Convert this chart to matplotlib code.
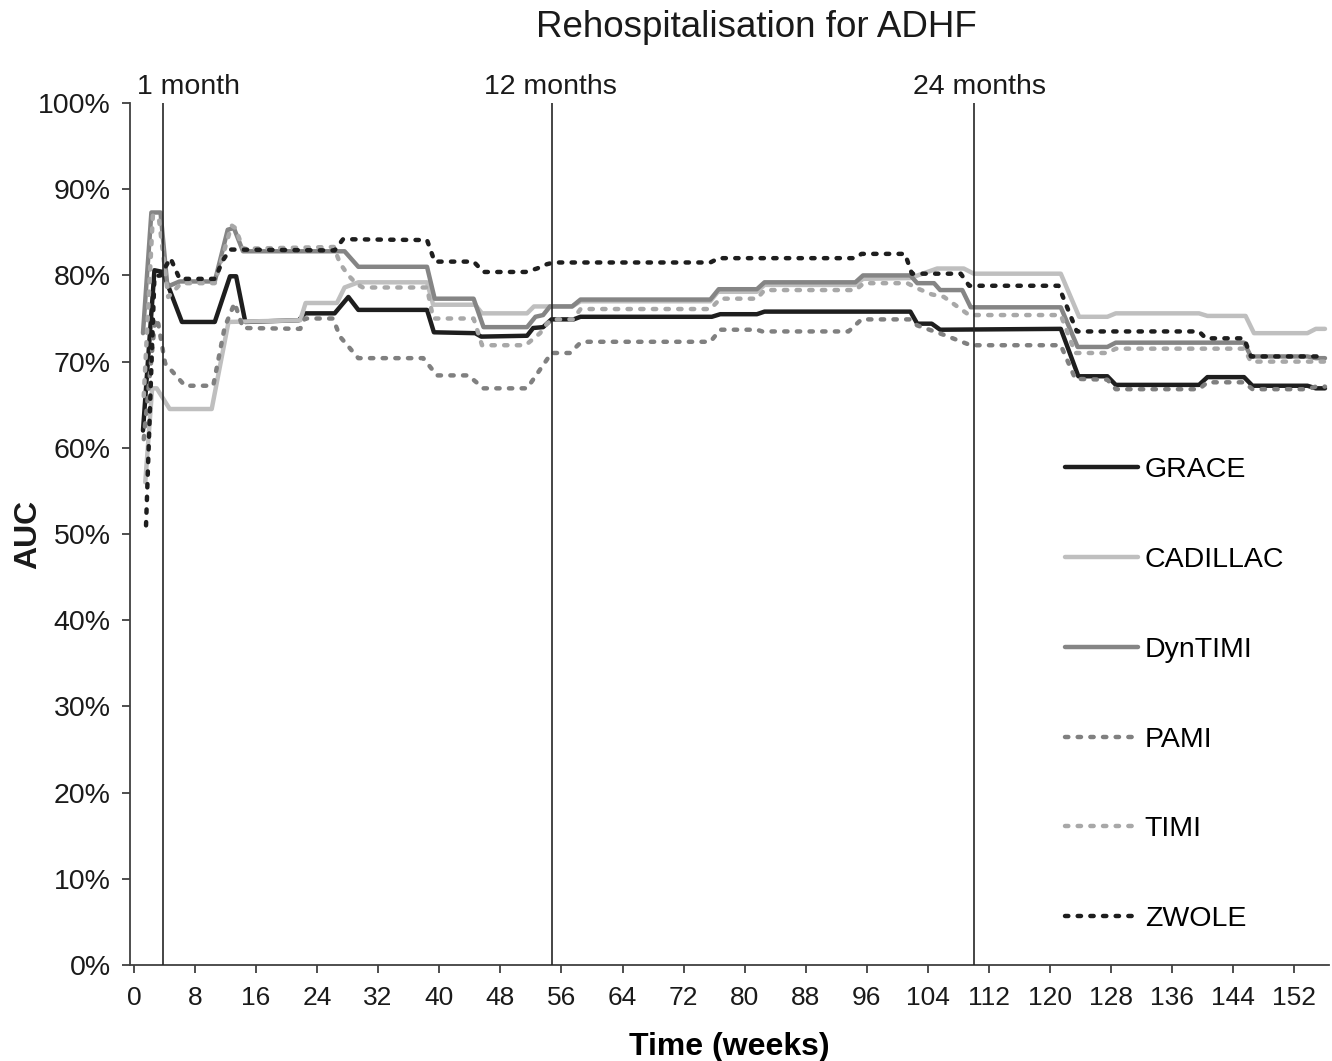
import matplotlib
matplotlib.use('Agg')
import matplotlib.pyplot as plt
from matplotlib.ticker import PercentFormatter

plt.rcParams['font.family'] = ['Liberation Sans', 'DejaVu Sans']

# weeks / AUC (%)
grace_wk = [1.2, 2.7, 3.8, 6.3, 10.6, 12.6, 13.4, 14.6, 21.6, 22.4, 26.3, 28.1, 29.4, 38.4, 39.3,
            44.7, 45.5, 51.5, 52.3, 53.6, 54.7, 57.6, 58.5, 75.7, 76.8, 81.6, 82.6, 101.7, 102.6,
            104.5, 105.6, 121.4, 123.7, 127.5, 128.6, 139.5, 140.6, 145.4, 146.5, 153.7, 154.8, 156]
grace_auc = [62.0, 80.6, 80.4, 74.6, 74.6, 79.9, 79.9, 74.6, 74.8, 75.6, 75.6, 77.5, 76.0, 76.0, 73.4,
             73.3, 72.9, 73.0, 73.9, 74.0, 74.9, 74.9, 75.2, 75.2, 75.5, 75.5, 75.8, 75.8, 74.4,
             74.4, 73.7, 73.8, 68.3, 68.3, 67.3, 67.3, 68.2, 68.2, 67.2, 67.2, 66.9, 66.9]

cadillac_wk = [1.5, 2.4, 3.0, 4.7, 10.2, 12.4, 21.8, 22.5, 26.6, 27.6, 29.4, 38.4, 39.2, 44.7, 45.6,
               51.5, 52.4, 57.4, 58.5, 75.5, 76.5, 81.6, 82.6, 94.5, 95.5, 101.7, 105.2, 108.7, 110.0,
               121.4, 123.8, 127.5, 128.6, 139.5, 140.6, 145.6, 146.7, 153.7, 154.8, 156]
cadillac_auc = [56.0, 66.9, 66.9, 64.5, 64.5, 74.6, 74.8, 76.8, 76.8, 78.6, 79.2, 79.2, 76.6, 76.6, 75.6,
                75.6, 76.4, 76.4, 77.0, 77.0, 78.1, 78.1, 78.9, 78.9, 79.6, 79.7, 80.8, 80.8, 80.2,
                80.2, 75.2, 75.2, 75.6, 75.6, 75.3, 75.3, 73.3, 73.3, 73.8, 73.8]

dyntimi_wk = [1.2, 2.3, 3.5, 4.4, 6.0, 10.6, 12.3, 13.1, 14.3, 27.6, 29.4, 38.4, 39.4, 44.5, 45.8,
              51.5, 52.6, 53.6, 54.5, 57.4, 58.5, 75.5, 76.6, 81.6, 82.6, 94.5, 95.5, 101.7, 102.6,
              104.8, 105.6, 108.5, 109.6, 121.4, 123.6, 127.5, 128.6, 145.4, 146.3, 153.7, 154.8, 156]
dyntimi_auc = [73.3, 87.3, 87.3, 78.7, 79.3, 79.3, 85.3, 85.5, 82.8, 82.8, 81.0, 81.0, 77.3, 77.3, 74.0,
               74.0, 75.2, 75.4, 76.4, 76.4, 77.2, 77.2, 78.4, 78.4, 79.2, 79.2, 80.0, 80.0, 79.1,
               79.1, 78.3, 78.3, 76.3, 76.3, 71.7, 71.7, 72.2, 72.2, 70.6, 70.6, 70.4, 70.4]

pami_wk = [1.3, 2.8, 3.2, 4.1, 6.7, 10.4, 11.9, 13.2, 14.3, 21.8, 22.4, 26.1, 27.0, 29.4, 37.9,
           39.7, 43.8, 45.8, 51.5, 54.7, 57.1, 58.5, 59.3, 75.5, 76.8, 81.6, 82.3, 93.6, 95.3,
           101.7, 102.6, 106.1, 109.6, 121.4, 123.3, 127.5, 128.6, 139.5, 140.6, 145.4, 146.5,
           153.7, 154.8, 156]
pami_auc = [61.0, 75.0, 74.4, 69.8, 67.2, 67.2, 74.0, 76.8, 73.9, 73.8, 75.0, 75.0, 72.9, 70.4, 70.4,
            68.4, 68.4, 66.9, 66.9, 71.0, 71.0, 72.2, 72.3, 72.3, 73.7, 73.7, 73.5, 73.5, 74.9,
            74.9, 74.2, 73.1, 71.9, 71.9, 68.0, 67.9, 66.8, 66.8, 67.6, 67.6, 66.8,
            66.8, 67.1, 67.1]

timi_wk = [1.3, 2.5, 3.3, 4.5, 6.2, 10.6, 12.8, 13.3, 14.3, 26.2, 27.0, 28.1, 29.2, 30.0, 38.4,
           39.2, 44.5, 45.6, 51.3, 53.2, 54.1, 54.8, 57.5, 58.5, 75.5, 76.8, 81.6, 82.6, 94.5,
           95.6, 101.3, 102.6, 104.5, 106.1, 109.4, 121.4, 123.3, 127.5, 128.6, 145.4, 146.3, 156]
timi_auc = [66.0, 87.0, 86.5, 77.5, 79.1, 79.1, 85.8, 85.5, 83.1, 83.3, 81.4, 80.0, 79.0, 78.6, 78.6,
            75.0, 75.0, 71.9, 71.9, 73.3, 74.4, 74.9, 74.9, 76.1, 76.1, 77.3, 77.3, 78.3, 78.3,
            79.1, 79.1, 78.5, 77.8, 77.5, 75.4, 75.4, 71.0, 71.0, 71.5, 71.5, 70.0, 70.0]

zwole_wk = [1.6, 2.7, 3.5, 4.8, 6.0, 10.6, 11.7, 12.6, 26.3, 27.4, 38.4, 39.4, 44.5, 45.8, 51.3,
            52.8, 54.1, 55.0, 75.5, 76.6, 94.5, 95.3, 101.0, 101.9, 108.3, 109.4, 121.1, 123.5,
            139.5, 140.4, 145.4, 146.3, 156]
zwole_auc = [51.0, 79.9, 80.0, 82.0, 79.6, 79.6, 81.8, 83.0, 82.9, 84.2, 84.1, 81.6, 81.6, 80.4, 80.4,
             80.8, 81.3, 81.5, 81.5, 82.0, 82.0, 82.5, 82.5, 80.2, 80.2, 78.8, 78.8, 73.5,
             73.5, 72.7, 72.7, 70.6, 70.6]

# time-point markers
mark_wk = [3.8, 54.8, 110.0]
mark_text = ['1 month', '12 months', '24 months']
mark_text_x = [0.4, 54.6, 110.8]
mark_text_ha = ['left', 'center', 'center']

fig = plt.figure(figsize=(13.32, 10.61), dpi=100)
ax = fig.add_axes([0.0976, 0.0905, 0.9, 0.8124])

lw = 3.2
dots = (0.75, 2.1)
ax.plot(grace_wk, grace_auc, color='#1e1e1e', lw=lw, label='GRACE', solid_capstyle='round')
ax.plot(cadillac_wk, cadillac_auc, color='#bfbfbf', lw=lw, label='CADILLAC', solid_capstyle='round')
ax.plot(dyntimi_wk, dyntimi_auc, color='#858585', lw=lw, label='DynTIMI', solid_capstyle='round')
ax.plot(pami_wk, pami_auc, color='#808080', lw=lw, label='PAMI',
        linestyle=(0, dots), dash_capstyle='round')
ax.plot(timi_wk, timi_auc, color='#a8a8a8', lw=lw, label='TIMI',
        linestyle=(0, dots), dash_capstyle='round')
ax.plot(zwole_wk, zwole_auc, color='#1e1e1e', lw=lw, label='ZWOLE',
        linestyle=(0, dots), dash_capstyle='round')

for x in mark_wk:
    ax.axvline(x, color='#262626', lw=1.2, zorder=5)
for x, t, ha in zip(mark_text_x, mark_text, mark_text_ha):
    ax.text(x, 101.0, t, ha=ha, va='baseline', fontsize=20.5, color='#1a1a1a')

ax.set_xlim(-0.5, 156.5)
ax.set_ylim(0, 100)
ax.set_xticks(range(0, 153, 8))
ax.set_yticks(range(0, 101, 10))
ax.yaxis.set_major_formatter(PercentFormatter(decimals=0))

for s in ['top', 'right']:
    ax.spines[s].set_visible(False)
for s in ['left', 'bottom']:
    ax.spines[s].set_color('#404040')
    ax.spines[s].set_linewidth(1.3)
ax.tick_params(axis='both', direction='out', length=6, width=1.3, color='#404040',
               labelcolor='#1a1a1a')
ax.tick_params(axis='x', labelsize=19, pad=9)
ax.tick_params(axis='y', labelsize=20.5, pad=8)

ax.set_xlabel('Time (weeks)', fontsize=23, fontweight='bold', labelpad=16)
fig.text(0.021, 0.496, 'AUC', rotation=90, ha='center', va='center', fontsize=23,
         fontweight='bold', color='#1a1a1a')

fig.text(0.568, 0.974, 'Rehospitalisation for ADHF', ha='center', va='center', fontsize=26.5,
         color='#1a1a1a')

ax.legend(loc='center left', bbox_to_anchor=(0.78, 0.3135), frameon=False, fontsize=20.5,
          handlelength=2.55, handletextpad=0.25, labelspacing=2.24, borderpad=0, borderaxespad=0)

fig.savefig('out.png', dpi=100)
